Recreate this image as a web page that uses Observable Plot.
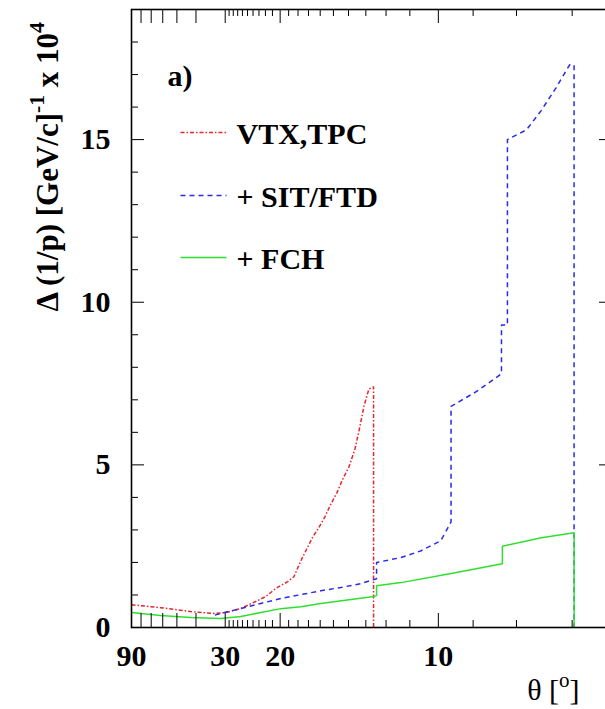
<!DOCTYPE html>
<html>
<head>
<meta charset="utf-8">
<script src="https://cdn.jsdelivr.net/npm/d3@7"></script>
<script src="https://cdn.jsdelivr.net/npm/@observablehq/plot@0.6"></script>
<style>
  html, body { margin: 0; padding: 0; background: #fff; overflow: hidden; }
  #chart svg { max-width: none !important; }
</style>
</head>
<body>
<div id="chart"></div>
<script>
// Momentum resolution Δ(1/p) versus polar angle θ for three tracker configurations.

// VTX + TPC only
const vtxTheta = [90, 61.8, 42.5, 33.7, 29.9, 26.35, 23.54, 21.95, 20.56, 19.1, 18.43, 17.72, 17.15, 16.61, 16.11, 15.63, 15.18, 14.76, 14.36, 13.97, 13.61, 13.38, 13.1, 12.84, 12.6, 12.6];
const vtxRes   = [0.70, 0.61, 0.49, 0.43, 0.46, 0.58, 0.80, 0.95, 1.20, 1.41, 1.56, 2.05, 2.42, 2.79, 3.07, 3.40, 3.80, 4.14, 4.57, 4.94, 5.49, 6.04, 6.81, 7.33, 7.40, 0];

// adding SIT / FTD
const sitTheta = [33.0, 29.9, 26.35, 22.7, 19.92, 17.72, 15.95, 14.49, 13.27, 12.45, 12.45, 11.35, 10.58, 9.92, 9.61, 9.61, 8.92, 8.32, 8.32, 8.19, 8.19, 7.8, 7.52, 7.26, 7.04, 6.97, 6.97];
const sitRes   = [0.38, 0.47, 0.58, 0.74, 0.89, 1.01, 1.13, 1.23, 1.35, 1.50, 2.00, 2.15, 2.36, 2.67, 3.25, 6.80, 7.25, 7.80, 9.30, 9.30, 15.0, 15.3, 15.9, 16.6, 17.3, 17.3, 0];

// adding FCH
const fchTheta = [90, 61.8, 42.5, 31.2, 26.35, 22.7, 19.92, 17.72, 15.95, 13.85, 12.58, 12.45, 12.45, 11.35, 9.61, 8.30, 8.30, 7.52, 6.97, 6.97];
const fchRes   = [0.46, 0.37, 0.31, 0.28, 0.34, 0.46, 0.58, 0.64, 0.74, 0.86, 0.95, 0.98, 1.28, 1.38, 1.66, 1.96, 2.50, 2.76, 2.91, 0];

const seriesNames  = ["VTX,TPC", "+ SIT/FTD", "+ FCH"];
const seriesColors = ["#e8242c", "#2a2ae8", "#2ee02e"];
const seriesDash   = ["4,2,1.5,2", "5,4", null];

// θ axis ticks (degrees)
const thetaMajor  = [90, 80, 70, 60, 50, 40, 30, 20, 10];
const thetaMinor  = [29, 28, 27, 26, 25, 24, 23, 22, 21, 19, 18, 17, 16, 15, 14, 13, 12, 11, 9, 8, 7];
const thetaLabels = [90, 30, 20, 10];

// Δ(1/p) axis ticks
const resMajor = [0, 5, 10, 15];
const resMinor = [1, 2, 3, 4, 6, 7, 8, 9, 11, 12, 13, 14, 16, 17, 18, 19];

const deg = Math.PI / 180;
const cot = t => Math.cos(t * deg) / Math.sin(t * deg);
const xMax = 8.89;   // cot θ at the right edge of the frame
const yMax = 19;

const font = "'Liberation Serif', 'Times New Roman', serif";
const curves = [[vtxTheta, vtxRes], [sitTheta, sitRes], [fchTheta, fchRes]]
  .map(([t, v], k) => t.map((theta, i) => ({theta, res: v[i], series: seriesNames[k]})));

const xTicks = (vals, len) => [
  Plot.ruleX(vals, {x: cot, y1: 0, y2: 0, insetTop: -len, stroke: "black", strokeWidth: 1}),
  Plot.ruleX(vals, {x: cot, y1: yMax, y2: yMax, insetBottom: -len, stroke: "black", strokeWidth: 1})
];
const yTicks = (vals, len) => [
  Plot.ruleY(vals, {y: d => d, x1: 0, x2: 0, insetRight: -len, stroke: "black", strokeWidth: 1}),
  Plot.ruleY(vals, {y: d => d, x1: xMax, x2: xMax, insetLeft: -len, stroke: "black", strokeWidth: 1})
];

const legendRows = [123, 186, 248];

const chart = Plot.plot({
  width: 624,
  height: 709,
  marginLeft: 131,
  marginRight: 12,
  marginTop: 9,
  marginBottom: 82,
  style: {fontFamily: font, background: "#fff", overflow: "visible", maxWidth: "none"},
  x: {type: "linear", domain: [0, xMax], axis: null},
  y: {type: "linear", domain: [0, yMax], axis: null},
  marks: [
    ...curves.map((data, k) => Plot.line(data, {
      x: d => cot(d.theta), y: "res",
      stroke: seriesColors[k], strokeWidth: 1.5,
      strokeDasharray: seriesDash[k], strokeLinecap: "butt", strokeLinejoin: "miter"
    })),
    ...xTicks(thetaMajor, 14),
    ...xTicks(thetaMinor, 7),
    ...yTicks(resMajor, 13),
    ...yTicks(resMinor, 7),
    Plot.frame({stroke: "black", strokeWidth: 1.6}),
    Plot.text(resMajor, {x: 0, y: d => d, text: d => String(d), dx: -21, textAnchor: "end",
      lineAnchor: "middle", fontSize: 30, fontWeight: "bold", fill: "black"}),
    Plot.text(thetaLabels, {x: cot, y: 0, text: d => String(d), dy: 38, textAnchor: "middle",
      lineAnchor: "bottom", fontSize: 30, fontWeight: "bold", fill: "black"}),
    Plot.text(["Δ (1/p) [GeV/c]^{-1} x 10^{4}"], {frameAnchor: "top-left", dx: -74, dy: 302,
      rotate: -90, textAnchor: "start", lineAnchor: "bottom", fontSize: 31, fontWeight: "bold", fill: "black"}),
    Plot.text(["θ [^{o}]"], {frameAnchor: "bottom-right", dx: -33, dy: 72,
      textAnchor: "end", lineAnchor: "bottom", fontSize: 30, fill: "black"}),
    Plot.text(["a)"], {frameAnchor: "top-left", dx: 36, dy: 76, textAnchor: "start",
      lineAnchor: "bottom", fontSize: 30, fontWeight: "bold", fill: "black"}),
    ...seriesNames.map((name, k) => Plot.vector([name], {frameAnchor: "top-left", dx: 49, dy: legendRows[k],
      length: 46, rotate: 90, anchor: "start", r: 0, stroke: seriesColors[k], strokeWidth: 1.5,
      strokeDasharray: seriesDash[k], strokeLinecap: "butt"})),
    ...seriesNames.map((name, k) => Plot.text([name], {frameAnchor: "top-left", dx: 105, dy: legendRows[k] + 11,
      textAnchor: "start", lineAnchor: "bottom", fontSize: 30, fontWeight: "bold", fill: "black"}))
  ]
});

// turn ^{...} markup into raised tspans
d3.select(chart).selectAll("text").each(function () {
  const s = this.textContent;
  if (!s.includes("^{")) return;
  const el = d3.select(this);
  el.text(null);
  let raised = false;
  s.split(/(\^\{[^}]*\})/).filter(p => p).forEach(p => {
    const m = p.match(/^\^\{(.*)\}$/);
    if (m) {
      el.append("tspan").attr("dy", "-0.6em").attr("font-size", "70%").text(m[1]);
      raised = true;
    } else {
      const t = el.append("tspan").text(p);
      if (raised) t.attr("dy", "0.42em");
      raised = false;
    }
  });
});

document.getElementById("chart").append(chart);
</script>
</body>
</html>
